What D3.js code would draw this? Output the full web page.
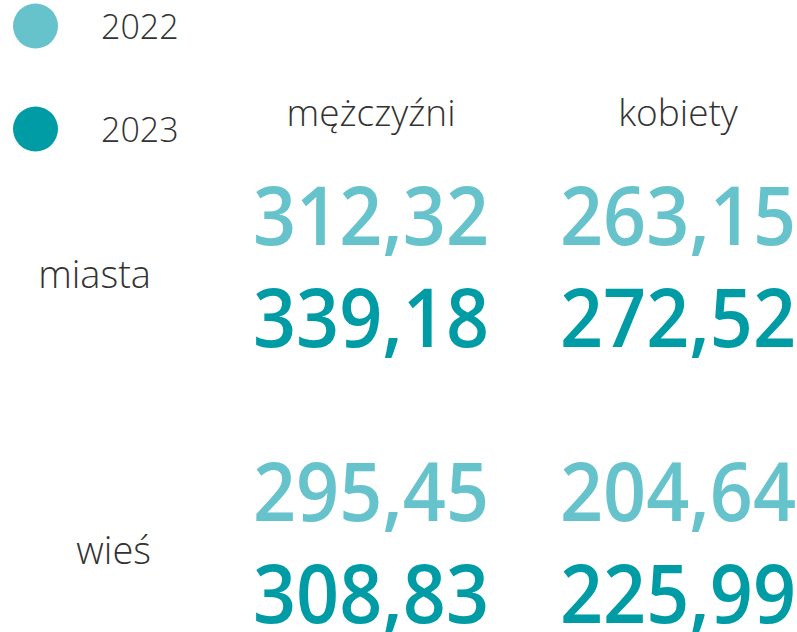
<!DOCTYPE html>
<html>
<head>
<meta charset="utf-8">
<script src="https://cdn.jsdelivr.net/npm/d3@7"></script>
<style>
  html, body { margin: 0; padding: 0; background: #ffffff; overflow: hidden; }
  svg { display: block; }
</style>
</head>
<body>
<svg id="chart" width="797" height="632"></svg>
<script>
// ---- data ----
const years = ["2022", "2023"];
const genders = ["mężczyźni", "kobiety"];
const places = ["miasta", "wieś"];
const miasta2022 = [312.32, 263.15];
const miasta2023 = [339.18, 272.52];
const wies2022 = [295.45, 204.64];
const wies2023 = [308.83, 225.99];
const yearColors = ["#67c3cb", "#009ca6"];

// ---- build rows ----
const seriesByPlace = {
  "miasta": [miasta2022, miasta2023],
  "wieś": [wies2022, wies2023]
};
const cells = [];
places.forEach(p => {
  years.forEach((yr, yi) => {
    genders.forEach((g, gi) => {
      cells.push({ place: p, year: yr, gender: g, value: seriesByPlace[p][yi][gi] });
    });
  });
});

const pl = d3.formatLocale({ decimal: ",", thousands: " ", grouping: [3], currency: ["", " zł"] });
const fmt = pl.format(".2f");

const svg = d3.select("#chart");

const textColor = "#333333";
const font = "'Open Sans', 'Noto Sans', sans-serif";

// scales
const x = d3.scalePoint().domain(genders).range([371, 678]);
const yPlace = d3.scalePoint().domain(places).range([245, 521]);
const yYear = d3.scalePoint().domain(years).range([0, 102]);
const color = d3.scaleOrdinal().domain(years).range(yearColors);
const legendY = d3.scalePoint().domain(years).range([26, 129]);

// legend
const leg = svg.append("g").attr("class", "legend");
leg.selectAll("circle").data(years).join("circle")
  .attr("cx", 35.5)
  .attr("cy", d => legendY(d))
  .attr("r", 22.5)
  .attr("fill", d => color(d));
leg.selectAll("text").data(years).join("text")
  .attr("x", 101)
  .attr("y", d => legendY(d) + 13)
  .attr("font-family", font)
  .attr("font-weight", 300)
  .attr("font-size", 34)
  .attr("fill", textColor)
  .text(d => d);

// column headers
svg.append("g").selectAll("text").data(genders).join("text")
  .attr("x", d => x(d))
  .attr("y", 126)
  .attr("text-anchor", "middle")
  .attr("font-family", font)
  .attr("font-weight", 300)
  .attr("font-size", 37)
  .attr("fill", textColor)
  .text(d => d);

// row labels
svg.append("g").selectAll("text").data(places).join("text")
  .attr("x", 151)
  .attr("y", d => yPlace(d) + 43)
  .attr("text-anchor", "end")
  .attr("font-family", font)
  .attr("font-weight", 300)
  .attr("font-size", 38)
  .attr("fill", textColor)
  .text(d => d);

// values
svg.append("g").selectAll("text").data(cells).join("text")
  .attr("transform", d => `translate(${x(d.gender)},${yPlace(d.place) + yYear(d.year)}) scale(0.92,1)`)
  .attr("text-anchor", "middle")
  .attr("font-family", font)
  .attr("font-weight", 600)
  .attr("font-size", 82)
  .attr("fill", d => color(d.year))
  .text(d => fmt(d.value));
</script>
</body>
</html>
